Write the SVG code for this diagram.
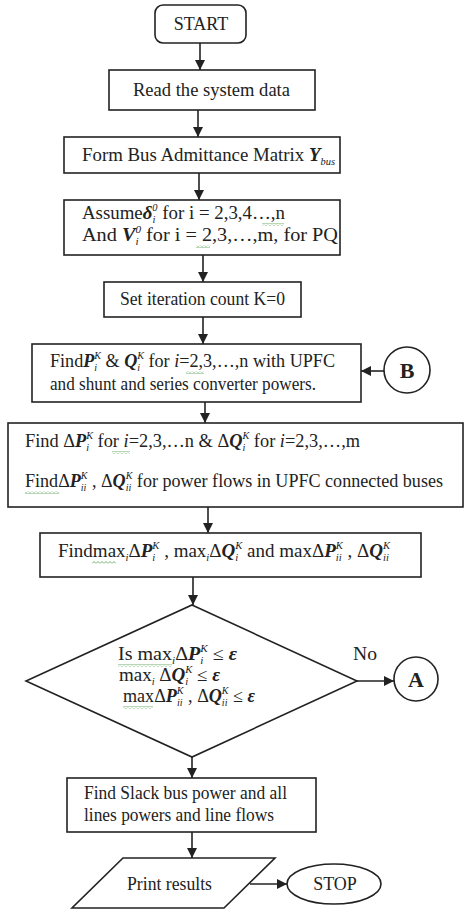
<svg xmlns="http://www.w3.org/2000/svg" width="465" height="914" viewBox="0 0 465 914">
<defs>
<style>
.shape{fill:#fff;stroke:#222;stroke-width:1.6}
.ln{stroke:#222;stroke-width:1.6;fill:none}
.t{font-family:"Liberation Serif","Times New Roman",serif;font-size:18px;fill:#222}
.c{text-anchor:middle}
.bi{font-weight:bold;font-style:italic}
.it{font-style:italic}
.sm{font-size:10px;font-style:italic}
.big{font-family:"Liberation Serif",serif;font-size:22px;font-weight:bold;fill:#222;text-anchor:middle}
.sq{fill:url(#wave)}
</style>
<marker id="ah" viewBox="0 0 10 10" refX="10" refY="5" markerWidth="10" markerHeight="10" markerUnits="userSpaceOnUse" orient="auto">
<path d="M0,0 L10,5 L0,10 z" fill="#222"/>
</marker>
<pattern id="wave" width="4" height="3" patternUnits="userSpaceOnUse">
<path d="M0,2.5 L2,0.5 L4,2.5" fill="none" stroke="#4a9a4a" stroke-width="0.8"/>
</pattern>
</defs>
<rect width="465" height="914" fill="#fff"/>

<g id="connectors">
<line class="ln" x1="200" y1="43" x2="200" y2="70" marker-end="url(#ah)"/>
<line class="ln" x1="198" y1="110" x2="198" y2="137" marker-end="url(#ah)"/>
<line class="ln" x1="199" y1="173" x2="199" y2="200" marker-end="url(#ah)"/>
<line class="ln" x1="203" y1="255" x2="203" y2="282" marker-end="url(#ah)"/>
<line class="ln" x1="203" y1="317" x2="203" y2="344" marker-end="url(#ah)"/>
<line class="ln" x1="205" y1="402" x2="205" y2="423" marker-end="url(#ah)"/>
<line class="ln" x1="208" y1="507" x2="208" y2="533" marker-end="url(#ah)"/>
<line class="ln" x1="193" y1="577" x2="193" y2="605" marker-end="url(#ah)"/>
<line class="ln" x1="192" y1="757" x2="192" y2="778" marker-end="url(#ah)"/>
<line class="ln" x1="192" y1="832" x2="192" y2="858" marker-end="url(#ah)"/>
<line class="ln" x1="357" y1="681" x2="394" y2="681" marker-end="url(#ah)"/>
<line class="ln" x1="384" y1="371" x2="361" y2="371" marker-end="url(#ah)"/>
<line class="ln" x1="250" y1="884" x2="287" y2="884" marker-end="url(#ah)"/>
<text class="t" x="353" y="660" textLength="24" lengthAdjust="spacingAndGlyphs">No</text>
</g>

<g id="start">
<rect class="shape" x="155" y="5" width="91" height="38" rx="8"/>
<text class="t c" x="201" y="30">START</text>
</g>

<g id="read">
<rect class="shape" x="109" y="70" width="206" height="40"/>
<text class="t" x="133" y="96" textLength="157" lengthAdjust="spacingAndGlyphs">Read the system data</text>
</g>

<g id="ybus">
<rect class="shape" x="64" y="137" width="276" height="36"/>
<text class="t" x="82" y="161" textLength="253" lengthAdjust="spacingAndGlyphs">Form Bus Admittance Matrix <tspan class="bi">Y</tspan><tspan class="sm" baseline-shift="-4">bus</tspan></text>
</g>

<g id="assume">
<rect class="shape" x="64" y="200" width="276" height="55"/>
<text class="t" x="82" y="219" textLength="203" lengthAdjust="spacingAndGlyphs">Assume<tspan class="bi">δ</tspan><tspan class="sm" baseline-shift="-4">i</tspan><tspan class="sm" dx="-2.8" baseline-shift="8">0</tspan> for i = 2,3,4…,n</text>
<text class="t" x="82" y="241" textLength="256" lengthAdjust="spacingAndGlyphs">And <tspan class="bi">V</tspan><tspan class="sm" baseline-shift="-4">i</tspan><tspan class="sm" dx="-2.8" baseline-shift="8">0</tspan>  for i = 2,3,…,m, for PQ</text>
<rect class="sq" x="262" y="223" width="22" height="3"/>
<rect class="sq" x="196" y="245" width="14" height="3"/>
</g>

<g id="setk">
<rect class="shape" x="104" y="282" width="197" height="35"/>
<text class="t" x="120" y="305" textLength="165" lengthAdjust="spacingAndGlyphs">Set iteration count K=0</text>
</g>

<g id="findpq">
<rect class="shape" x="32" y="344" width="329" height="58"/>
<text class="t" x="50" y="367" textLength="285" lengthAdjust="spacingAndGlyphs">Find<tspan class="bi">P</tspan><tspan class="sm" baseline-shift="-4">i</tspan><tspan class="sm" dx="-2.8" baseline-shift="8">K</tspan> &amp; <tspan class="bi">Q</tspan><tspan class="sm" baseline-shift="-4">i</tspan><tspan class="sm" dx="-2.8" baseline-shift="8">K</tspan>   for <tspan class="it">i</tspan>=2,3,…,n with UPFC</text>
<text class="t" x="50" y="390" textLength="266" lengthAdjust="spacingAndGlyphs">and shunt and series converter powers.</text>
<rect class="sq" x="186" y="371" width="18" height="3"/>
</g>

<g id="connB">
<circle class="shape" cx="407" cy="370" r="23"/>
<text class="big" x="407" y="378">B</text>
</g>

<g id="mismatch">
<rect class="shape" x="8" y="423" width="455" height="84"/>
<text class="t" x="25" y="447" textLength="335" lengthAdjust="spacingAndGlyphs">Find Δ<tspan class="bi">P</tspan><tspan class="sm" baseline-shift="-4">i</tspan><tspan class="sm" dx="-2.8" baseline-shift="8">K</tspan> for <tspan class="it">i</tspan>=2,3,…n &amp; Δ<tspan class="bi">Q</tspan><tspan class="sm" baseline-shift="-4">i</tspan><tspan class="sm" dx="-2.8" baseline-shift="8">K</tspan>  for <tspan class="it">i</tspan>=2,3,…,m</text>
<text class="t" x="25" y="487" textLength="418" lengthAdjust="spacingAndGlyphs">FindΔ<tspan class="bi">P</tspan><tspan class="sm" baseline-shift="-4">ii</tspan><tspan class="sm" dx="-5.6" baseline-shift="8">K</tspan> , Δ<tspan class="bi">Q</tspan><tspan class="sm" baseline-shift="-4">ii</tspan><tspan class="sm" dx="-5.6" baseline-shift="8">K</tspan>  for power flows in UPFC connected buses</text>
<rect class="sq" x="112" y="451" width="18" height="3"/>
<rect class="sq" x="25" y="491" width="34" height="3"/>
</g>

<g id="findmax">
<rect class="shape" x="40" y="533" width="381" height="44"/>
<text class="t" x="58" y="557" textLength="332" lengthAdjust="spacingAndGlyphs">Findmax<tspan class="sm" baseline-shift="-4">i</tspan>Δ<tspan class="bi">P</tspan><tspan class="sm" baseline-shift="-4">i</tspan><tspan class="sm" dx="-2.8" baseline-shift="8">K</tspan> , max<tspan class="sm" baseline-shift="-4">i</tspan>Δ<tspan class="bi">Q</tspan><tspan class="sm" baseline-shift="-4">i</tspan><tspan class="sm" dx="-2.8" baseline-shift="8">K</tspan> and  maxΔ<tspan class="bi">P</tspan><tspan class="sm" baseline-shift="-4">ii</tspan><tspan class="sm" dx="-5.6" baseline-shift="8">K</tspan> , Δ<tspan class="bi">Q</tspan><tspan class="sm" baseline-shift="-4">ii</tspan><tspan class="sm" dx="-5.6" baseline-shift="8">K</tspan></text>
<rect class="sq" x="92" y="561" width="24" height="3"/>
</g>

<g id="decision">
<polygon class="shape" points="192,605 357,681 192,757 26,681"/>
<text class="t" x="118" y="660" textLength="119" lengthAdjust="spacingAndGlyphs">Is  max<tspan class="sm" baseline-shift="-4">i</tspan>Δ<tspan class="bi">P</tspan><tspan class="sm" baseline-shift="-4">i</tspan><tspan class="sm" dx="-2.8" baseline-shift="8">K</tspan>  ≤ <tspan class="bi">ε</tspan></text>
<text class="t" x="119" y="681" textLength="101" lengthAdjust="spacingAndGlyphs">max<tspan class="sm" baseline-shift="-4">i</tspan> Δ<tspan class="bi">Q</tspan><tspan class="sm" baseline-shift="-4">i</tspan><tspan class="sm" dx="-2.8" baseline-shift="8">K</tspan>  ≤ <tspan class="bi">ε</tspan></text>
<text class="t" x="123" y="702" textLength="132" lengthAdjust="spacingAndGlyphs">maxΔ<tspan class="bi">P</tspan><tspan class="sm" baseline-shift="-4">ii</tspan><tspan class="sm" dx="-5.6" baseline-shift="8">K</tspan> , Δ<tspan class="bi">Q</tspan><tspan class="sm" baseline-shift="-4">ii</tspan><tspan class="sm" dx="-5.6" baseline-shift="8">K</tspan>  ≤ <tspan class="bi">ε</tspan></text>
<rect class="sq" x="118" y="664" width="54" height="3"/>
<rect class="sq" x="123" y="706" width="30" height="3"/>
</g>

<g id="connA">
<circle class="shape" cx="416" cy="679" r="22"/>
<text class="big" x="416" y="687">A</text>
</g>

<g id="slack">
<rect class="shape" x="67" y="778" width="249" height="54"/>
<text class="t" x="84" y="799" textLength="203" lengthAdjust="spacingAndGlyphs">Find Slack bus power and all</text>
<text class="t" x="84" y="821" textLength="190" lengthAdjust="spacingAndGlyphs">lines powers and line flows</text>
</g>

<g id="print">
<polygon class="shape" points="123,858 275,858 224,908 72,908"/>
<text class="t" x="127" y="890" textLength="85" lengthAdjust="spacingAndGlyphs">Print results</text>
</g>

<g id="stop">
<ellipse class="shape" cx="334" cy="884" rx="47" ry="20"/>
<text class="t c" x="335" y="890">STOP</text>
</g>
</svg>
